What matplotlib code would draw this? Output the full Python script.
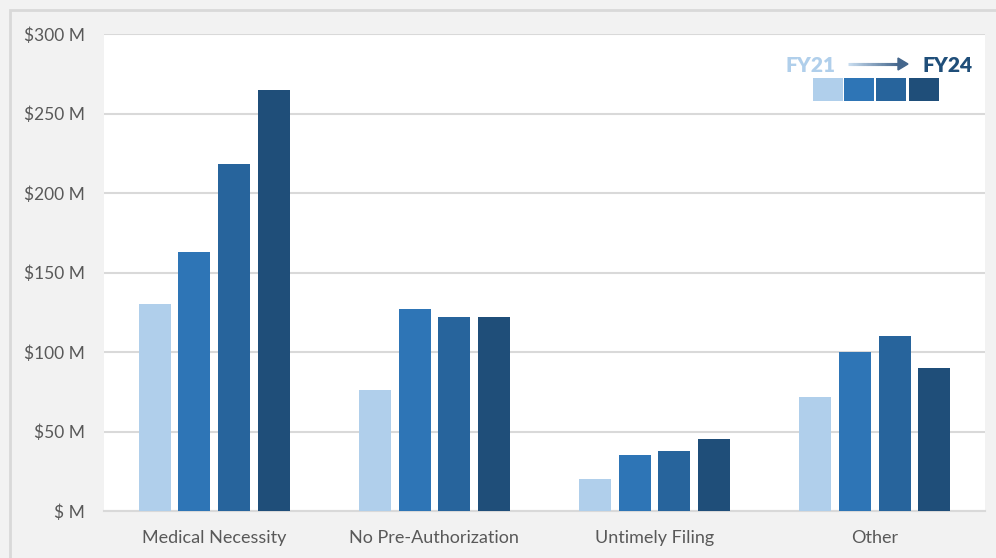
import matplotlib.pyplot as plt
import numpy as np
from matplotlib.collections import LineCollection
from matplotlib.colors import to_rgb
from matplotlib.patches import Rectangle

categories = ["Medical Necessity", "No Pre-Authorization", "Untimely Filing", "Other"]
years = ["FY21", "FY22", "FY23", "FY24"]
fy21 = [130, 76, 20, 72]
fy22 = [163, 127, 35, 100]
fy23 = [218, 122, 38, 110]
fy24 = [265, 122, 45, 90]
yticks = [0, 50, 100, 150, 200, 250, 300]
ytick_labels = ["$ M", "$50 M", "$100 M", "$150 M", "$200 M", "$250 M", "$300 M"]

colors = ["#B0CFEB", "#2E75B6", "#27649C", "#1F4E79"]
plt.rcParams["font.family"] = ["Lato", "DejaVu Sans"]

fig = plt.figure(figsize=(9.96, 5.58), dpi=100, facecolor="#F2F2F2")
# outer border of the chart frame
fig.patches.append(Rectangle((10 / 996, -0.1), 1.2, 1 - 10 / 558 + 0.1,
                             transform=fig.transFigure, facecolor="none",
                             edgecolor="#D9D9D9", linewidth=2))

ax = fig.add_axes([104 / 996, 1 - 511 / 558, (985 - 104) / 996, (511 - 34) / 558])
ax.set_facecolor("white")

x = np.arange(len(categories))
width = 0.145
step = 0.18
for i, vals in enumerate([fy21, fy22, fy23, fy24]):
    ax.bar(x + (i - 1.5) * step, vals, width, color=colors[i], zorder=3, label=years[i])

ax.set_xlim(-0.5, len(categories) - 0.5)
ax.set_ylim(0, 300)
ax.set_yticks(yticks)
ax.set_yticklabels(ytick_labels)
ax.set_xticks(x)
ax.set_xticklabels(categories)
ax.grid(axis="y", color="#D9D9D9", linewidth=1.5, zorder=0)
ax.set_axisbelow(True)
for s in ["left", "right", "top"]:
    ax.spines[s].set_visible(False)
ax.spines["bottom"].set_color("#D9D9D9")
ax.spines["bottom"].set_linewidth(1.5)
ax.tick_params(axis="both", length=0, labelcolor="#595959")
ax.tick_params(axis="y", pad=14, labelsize=12.5)
ax.tick_params(axis="x", pad=14, labelsize=13)

# legend: FY21 -> FY24 with colour squares
fig.text(810 / 996, 1 - 65 / 558, "FY21", color=colors[0], fontsize=15,
         fontweight="heavy", ha="center", va="center")
fig.text(948 / 996, 1 - 65 / 558, "FY24", color=colors[3], fontsize=15,
         fontweight="heavy", ha="center", va="center")
n = 40
xs = np.linspace(848, 900, n + 2)
segs = [[(xs[k] / 996, 1 - 64 / 558), (xs[k + 2] / 996, 1 - 64 / 558)] for k in range(n)]
c0, c1 = np.array(to_rgb("#C9DDF0")), np.array(to_rgb("#44668C"))
seg_colors = [c0 + (c1 - c0) * k / (n - 1) for k in range(n)]
fig.add_artist(LineCollection(segs, colors=seg_colors, linewidths=2.2,
                              capstyle="butt", transform=fig.transFigure))
fig.add_artist(plt.Polygon([(898 / 996, 1 - 58 / 558), (908 / 996, 1 - 64 / 558),
                            (898 / 996, 1 - 70 / 558)], closed=True,
                           color="#44668C", transform=fig.transFigure))
sq_x = [813, 844, 876, 909]
for i, sx in enumerate(sq_x):
    fig.patches.append(Rectangle((sx / 996, 1 - 101 / 558), 30 / 996, 23 / 558,
                                 transform=fig.transFigure, facecolor=colors[i],
                                 edgecolor="none"))

fig.savefig("out.png", dpi=100, facecolor=fig.get_facecolor())
